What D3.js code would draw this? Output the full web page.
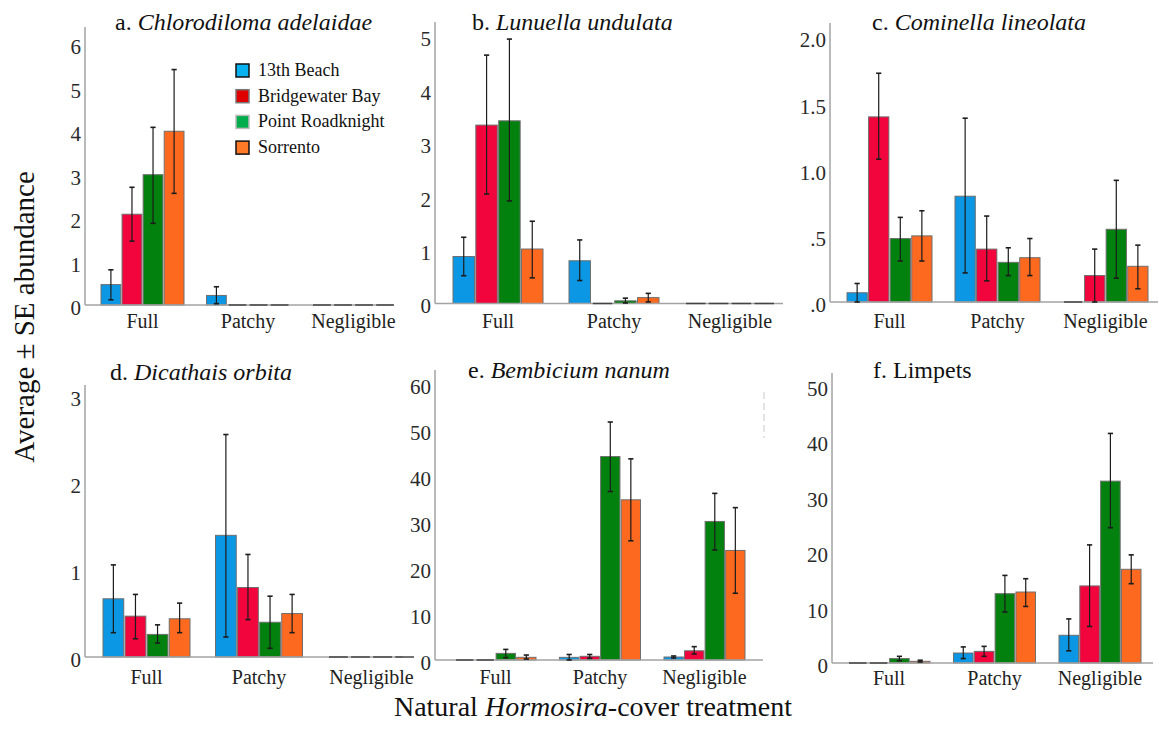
<!DOCTYPE html>
<html><head><meta charset="utf-8">
<script src="https://cdn.jsdelivr.net/npm/d3@7/dist/d3.min.js"></script>
<style>
html,body{margin:0;padding:0;background:#fff;}
svg, svg text{font-family:"Liberation Serif","Times New Roman","DejaVu Serif",serif !important;}
</style></head>
<body>
<svg id="chart" width="1159" height="738"></svg>
<script>
// ---------------- DATA ----------------
const sites = ["13th Beach", "Bridgewater Bay", "Point Roadknight", "Sorrento"];
const treatments = ["Full", "Patchy", "Negligible"];

const titleLetters = ["a.", "b.", "c.", "d.", "e.", "f."];
const titleNames = ["Chlorodiloma adelaidae", "Lunuella undulata", "Cominella lineolata",
                    "Dicathais orbita", "Bembicium nanum", "Limpets"];
const titleItalic = [true, true, true, true, true, false];

// y tick values & labels
const ticksA = [0, 1, 2, 3, 4, 5, 6];
const ticksB = [0, 1, 2, 3, 4, 5];
const ticksC = [0, 0.5, 1, 1.5, 2];
const tickLabelsC = [".0", ".5", "1.0", "1.5", "2.0"];
const ticksD = [0, 1, 2, 3];
const ticksE = [0, 10, 20, 30, 40, 50, 60];
const ticksF = [0, 10, 20, 30, 40, 50];

// means [treatment][site], SE bar low / high
const meanA = [[0.47, 2.09, 3.00, 4.00], [0.22, 0, 0, 0], [0, 0, 0, 0]];
const lowA  = [[0.12, 1.47, 1.88, 2.57], [0.03, 0, 0, 0], [0, 0, 0, 0]];
const highA = [[0.81, 2.71, 4.09, 5.42], [0.42, 0, 0, 0], [0, 0, 0, 0]];

const meanB = [[0.88, 3.34, 3.42, 1.02], [0.80, 0, 0.05, 0.11], [0, 0, 0, 0]];
const lowB  = [[0.52, 2.05, 1.92, 0.48], [0.43, 0, 0.01, 0.03], [0, 0, 0, 0]];
const highB = [[1.24, 4.65, 4.95, 1.54], [1.19, 0, 0.10, 0.19], [0, 0, 0, 0]];

const meanC = [[0.07, 1.40, 0.48, 0.50], [0.80, 0.40, 0.30, 0.335], [0, 0.20, 0.55, 0.27]];
const lowC  = [[0.00, 1.08, 0.31, 0.31], [0.22, 0.16, 0.20, 0.20], [0, 0.00, 0.18, 0.10]];
const highC = [[0.14, 1.73, 0.64, 0.69], [1.39, 0.65, 0.41, 0.48], [0, 0.40, 0.92, 0.43]];

const meanD = [[0.67, 0.47, 0.26, 0.44], [1.40, 0.80, 0.40, 0.50], [0, 0, 0, 0]];
const lowD  = [[0.28, 0.21, 0.16, 0.28], [0.23, 0.43, 0.10, 0.28], [0, 0, 0, 0]];
const highD = [[1.06, 0.72, 0.37, 0.62], [2.56, 1.18, 0.70, 0.72], [0, 0, 0, 0]];

const meanE = [[0, 0, 1.44, 0.58], [0.58, 0.80, 44.2, 34.8], [0.65, 2.0, 30.1, 23.8]];
const lowE  = [[0, 0, 0.50, 0.20], [0.00, 0.36, 36.6, 25.9], [0.43, 1.3, 23.9, 14.5]];
const highE = [[0, 0, 2.30, 1.08], [1.20, 1.20, 51.7, 43.7], [0.87, 2.9, 36.2, 33.1]];

const meanF = [[0, 0, 0.8, 0.3], [1.8, 2.1, 12.5, 12.8], [5.0, 13.9, 32.8, 16.9]];
const lowF  = [[0, 0, 0.4, 0.18], [0.8, 1.2, 9.2, 10.2], [2.2, 6.6, 24.4, 14.3]];
const highF = [[0, 0, 1.2, 0.5], [2.9, 3.0, 15.8, 15.2], [7.95, 21.3, 41.4, 19.5]];

// ---------------- STYLE / LAYOUT ----------------
const FONT = "'Liberation Serif', 'Times New Roman', 'DejaVu Serif', serif";
const barColors = ["#0b97e4", "#f2043d", "#03810f", "#fd6a1f"];
const legendColors = ["#08b2f0", "#e00000", "#00ad4c", "#ff7a26"];
const legendStroke = ["#111", "#777", "#bbb", "#111"];

const panels = [
  {ticks: ticksA, fmt: d => String(d), mean: meanA, lo: lowA, hi: highA,
   ax: 85, x0: 101, step: 105.5, bw: 83, base: 305, top: 27, yMax: 6.4, right: 393, pad: 9, tx: 115, ty: 30},
  {ticks: ticksB, fmt: d => String(d), mean: meanB, lo: lowB, hi: highB,
   ax: 435, x0: 453, step: 116, bw: 90, base: 303.5, top: 22, yMax: 5.27, right: 783, pad: 10, tx: 472, ty: 30},
  {ticks: ticksC, fmt: (d, i) => tickLabelsC[i], mean: meanC, lo: lowC, hi: highC,
   ax: 830, x0: 847, step: 108, bw: 85, base: 302, top: 23, yMax: 2.11, right: 1158, pad: 12, tx: 872, ty: 30},
  {ticks: ticksD, fmt: d => String(d), mean: meanD, lo: lowD, hi: highD,
   ax: 85, x0: 103, step: 112.5, bw: 87, base: 657, top: 385, yMax: 3.13, right: 403, pad: 13, tx: 110, ty: 380},
  {ticks: ticksE, fmt: d => String(d), mean: meanE, lo: lowE, hi: highE,
   ax: 435, x0: 455, step: 104.5, bw: 81, base: 660, top: 370, yMax: 63, right: 763, pad: 10, tx: 468, ty: 378},
  {ticks: ticksF, fmt: d => String(d), mean: meanF, lo: lowF, hi: highF,
   ax: 832, x0: 848, step: 105.5, bw: 82, base: 663, top: 373, yMax: 52.3, right: 1153, pad: 8, tx: 873, ty: 378}
];

const svg = d3.select("#chart");
const axisColor = "#a3a3a3";

panels.forEach((p, pi) => {
  const g = svg.append("g");
  const po = 0.1;
  const pIn = 1 - p.bw / p.step;
  const r0 = p.x0 - po * p.step;
  const r1 = r0 + p.step * (treatments.length - pIn + 2 * po);
  const x0 = d3.scaleBand().domain(treatments).range([r0, r1]).paddingInner(pIn).paddingOuter(po);
  const x1 = d3.scaleBand().domain(sites).range([0, x0.bandwidth()]).paddingInner(0.06);
  const y = d3.scaleLinear().domain([0, p.yMax]).range([p.base, p.top]);

  // y axis
  const ya = g.append("g").attr("transform", `translate(${p.ax},0)`)
    .call(d3.axisLeft(y).tickValues(p.ticks).tickSize(0).tickPadding(4).tickFormat(p.fmt));
  ya.attr("font-family", null);
  ya.select(".domain").remove();
  ya.selectAll("text").attr("font-size", 21).attr("fill", "#2a2a2a").attr("dy", "0.45em")
    .style("font-family", FONT);
  g.append("line").attr("x1", p.ax).attr("x2", p.ax).attr("y1", p.top).attr("y2", p.base)
    .attr("stroke", axisColor).attr("stroke-width", 1.5);

  // bars
  const rows = [];
  treatments.forEach((t, ti) => sites.forEach((s, si) => {
    rows.push({t, s, si, v: p.mean[ti][si], lo: p.lo[ti][si], hi: p.hi[ti][si]});
  }));
  const bx = d => x0(d.t) + x1(d.s);
  g.selectAll("rect.bar").data(rows.filter(d => d.v > 0)).join("rect")
    .attr("class", "bar")
    .attr("x", bx).attr("width", x1.bandwidth())
    .attr("y", d => y(d.v)).attr("height", d => y(0) - y(d.v))
    .attr("fill", d => barColors[d.si]).attr("stroke", "#6f6f6f").attr("stroke-width", 1);
  // x axis line
  g.append("line").attr("x1", p.ax).attr("x2", p.right).attr("y1", p.base).attr("y2", p.base)
    .attr("stroke", axisColor).attr("stroke-width", 1.5);
  // zero-height bars drawn as baseline dashes
  g.selectAll("line.zero").data(rows.filter(d => d.v === 0)).join("line")
    .attr("class", "zero")
    .attr("x1", d => bx(d) + 1).attr("x2", d => bx(d) + x1.bandwidth() - 1)
    .attr("y1", y(0)).attr("y2", y(0))
    .attr("stroke", "#444").attr("stroke-width", 1.5);

  // error bars
  const eb = rows.filter(d => d.hi > d.lo);
  const cx = d => bx(d) + x1.bandwidth() / 2;
  const cap = 2.6;
  const eg = g.selectAll("g.err").data(eb).join("g").attr("class", "err")
    .attr("stroke", "#1c1c1c").attr("stroke-width", 1.2);
  eg.append("line").attr("x1", cx).attr("x2", cx).attr("y1", d => y(d.hi)).attr("y2", d => y(d.lo));
  eg.append("line").attr("x1", d => cx(d) - cap).attr("x2", d => cx(d) + cap)
    .attr("y1", d => y(d.hi)).attr("y2", d => y(d.hi)).attr("stroke-width", 1.6);
  eg.append("line").attr("x1", d => cx(d) - cap).attr("x2", d => cx(d) + cap)
    .attr("y1", d => y(d.lo)).attr("y2", d => y(d.lo)).attr("stroke-width", 1.6);

  // x tick labels
  const xa = g.append("g").attr("transform", `translate(0,${p.base})`)
    .call(d3.axisBottom(x0).tickSize(0).tickPadding(p.pad));
  xa.attr("font-family", null);
  xa.select(".domain").remove();
  xa.selectAll("text").attr("font-size", 20).attr("fill", "#222").style("font-family", FONT);

  // title
  const tt = g.append("text").attr("x", p.tx).attr("y", p.ty).attr("font-size", 24).attr("fill", "#111")
    .style("font-family", FONT);
  tt.append("tspan").text(titleLetters[pi] + " ");
  tt.append("tspan").attr("font-style", titleItalic[pi] ? "italic" : "normal").text(titleNames[pi]);
});

// legend (panel a)
const lg = svg.append("g").attr("transform", "translate(236,64)");
sites.forEach((s, i) => {
  const row = lg.append("g").attr("transform", `translate(0,${i * 25.7})`);
  row.append("rect").attr("x", 0).attr("y", 0).attr("width", 13).attr("height", 13)
    .attr("fill", legendColors[i]).attr("stroke", legendStroke[i]).attr("stroke-width", 1.5);
  row.append("text").attr("x", 22).attr("y", 12).attr("font-size", 18).attr("fill", "#111")
    .style("font-family", FONT).text(s);
});

// stray dashed mark in panel e
svg.append("line").attr("x1", 764).attr("x2", 764).attr("y1", 392).attr("y2", 438)
  .attr("stroke", "#c8c8c8").attr("stroke-width", 1).attr("stroke-dasharray", "7,4");

// axis titles
svg.append("text").attr("transform", "translate(34,317) rotate(-90)")
  .attr("text-anchor", "middle").attr("font-size", 29).attr("fill", "#111")
  .style("font-family", FONT).text("Average ± SE abundance");
const xt = svg.append("text").attr("x", 593).attr("y", 716).attr("text-anchor", "middle")
  .attr("font-size", 28).attr("fill", "#111").style("font-family", FONT);
xt.append("tspan").text("Natural ");
xt.append("tspan").attr("font-style", "italic").text("Hormosira");
xt.append("tspan").text("-cover treatment");
</script>
</body></html>
